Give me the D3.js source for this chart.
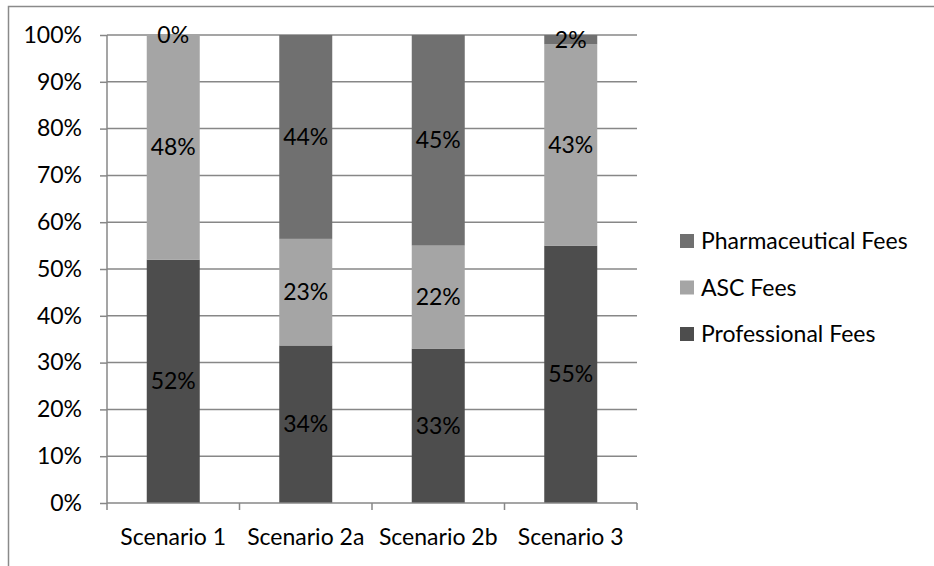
<!DOCTYPE html>
<html>
<head>
<meta charset="utf-8">
<script src="https://cdn.jsdelivr.net/npm/d3@7"></script>
<style>
  html, body { margin: 0; padding: 0; background: #fff; }
  svg { display: block; font-family: Lato, "Open Sans", sans-serif; }
</style>
</head>
<body>
<svg id="chart" width="934" height="566"></svg>
<script>
// Cost share per scenario (percent of total)
const categories = ["Scenario 1", "Scenario 2a", "Scenario 2b", "Scenario 3"];
const professionalFees = [52, 34, 33, 55];
const ascFees = [48, 23, 22, 43];
const pharmaceuticalFees = [0, 44, 45, 2];
const seriesNames = ["Professional Fees", "ASC Fees", "Pharmaceutical Fees"];
const seriesColors = ["#4d4d4d", "#a5a5a5", "#707070"];
const yTicks = [0, 0.1, 0.2, 0.3, 0.4, 0.5, 0.6, 0.7, 0.8, 0.9, 1];

const rows = categories.map((c, i) => ({
  category: c,
  "Professional Fees": professionalFees[i],
  "ASC Fees": ascFees[i],
  "Pharmaceutical Fees": pharmaceuticalFees[i]
}));

const svg = d3.select("#chart");
const plot = { left: 107, right: 637, top: 35, bottom: 503 };
const gridColor = "#878787";
const fontSize = 23;

// outer chart frame (top and left edges visible)
svg.append("path")
  .attr("d", "M8.5,566 L8.5,6.5 L934,6.5")
  .attr("fill", "none")
  .attr("stroke", "#8a8a8a")
  .attr("stroke-width", 1.5);

const x = d3.scaleBand().domain(categories).range([plot.left, plot.right]).paddingInner(0.6).paddingOuter(0.3);
const xBoundary = d3.scaleLinear().domain([0, categories.length]).range([plot.left, plot.right]);
const y = d3.scaleLinear().domain([0, 1]).range([plot.bottom, plot.top]);

// horizontal gridlines
svg.append("g")
  .selectAll("line")
  .data(yTicks.filter(t => t > 0))
  .join("line")
  .attr("x1", plot.left).attr("x2", plot.right)
  .attr("y1", d => y(d)).attr("y2", d => y(d))
  .attr("stroke", gridColor).attr("stroke-width", 1.5);

// stacked, normalised bars
const stack = d3.stack().keys(seriesNames).offset(d3.stackOffsetExpand);
const layers = stack(rows);
const color = d3.scaleOrdinal().domain(seriesNames).range(seriesColors);

const layerG = svg.append("g")
  .selectAll("g")
  .data(layers)
  .join("g")
  .attr("fill", d => color(d.key));

layerG.selectAll("rect")
  .data(d => d.map(p => ({ key: d.key, p })))
  .join("rect")
  .attr("x", d => x(d.p.data.category))
  .attr("width", x.bandwidth())
  .attr("y", d => y(d.p[1]))
  .attr("height", d => y(d.p[0]) - y(d.p[1]));

// value labels centred within each segment
svg.append("g")
  .selectAll("g")
  .data(layers)
  .join("g")
  .selectAll("text")
  .data(d => d.map(p => ({ key: d.key, p })))
  .join("text")
  .attr("x", d => x(d.p.data.category) + x.bandwidth() / 2)
  .attr("y", d => (y(d.p[0]) + y(d.p[1])) / 2)
  .attr("dy", "0.35em")
  .attr("text-anchor", "middle")
  .attr("font-size", fontSize)
  .attr("fill", "#000")
  .text(d => d.p.data[d.key] + "%");

// y axis
const yAxis = d3.axisLeft(y).tickValues(yTicks).tickFormat(d3.format(".0%")).tickSize(7).tickPadding(18);
const yg = svg.append("g").attr("transform", `translate(${plot.left},0)`).call(yAxis);
yg.select(".domain").attr("stroke", gridColor).attr("stroke-width", 1.5).attr("d", `M0,${plot.top}V${plot.bottom}`);
yg.selectAll(".tick line").attr("stroke", gridColor).attr("stroke-width", 1.5);
yg.selectAll(".tick text").attr("font-size", fontSize).attr("fill", "#000").attr("font-family", "Lato, sans-serif");

// x axis baseline with boundary ticks
svg.append("line")
  .attr("x1", plot.left).attr("x2", plot.right)
  .attr("y1", plot.bottom).attr("y2", plot.bottom)
  .attr("stroke", gridColor).attr("stroke-width", 1.5);
svg.append("g")
  .selectAll("line")
  .data(d3.range(categories.length + 1))
  .join("line")
  .attr("x1", d => xBoundary(d)).attr("x2", d => xBoundary(d))
  .attr("y1", plot.bottom).attr("y2", plot.bottom + 7)
  .attr("stroke", gridColor).attr("stroke-width", 1.5);
svg.append("g")
  .selectAll("text")
  .data(categories)
  .join("text")
  .attr("x", d => x(d) + x.bandwidth() / 2)
  .attr("y", 545)
  .attr("text-anchor", "middle")
  .attr("font-size", fontSize)
  .attr("fill", "#000")
  .text(d => d);

// legend, top entry is the top layer
const legendItems = seriesNames.slice().reverse();
const lg = svg.append("g")
  .selectAll("g")
  .data(legendItems)
  .join("g")
  .attr("transform", (d, i) => `translate(680,${241 + i * 46.5})`);
lg.append("rect")
  .attr("x", 0).attr("y", -7).attr("width", 14).attr("height", 14)
  .attr("fill", d => color(d));
lg.append("text")
  .attr("x", 21).attr("dy", "0.35em")
  .attr("font-size", fontSize)
  .attr("fill", "#000")
  .text(d => d);
</script>
</body>
</html>
